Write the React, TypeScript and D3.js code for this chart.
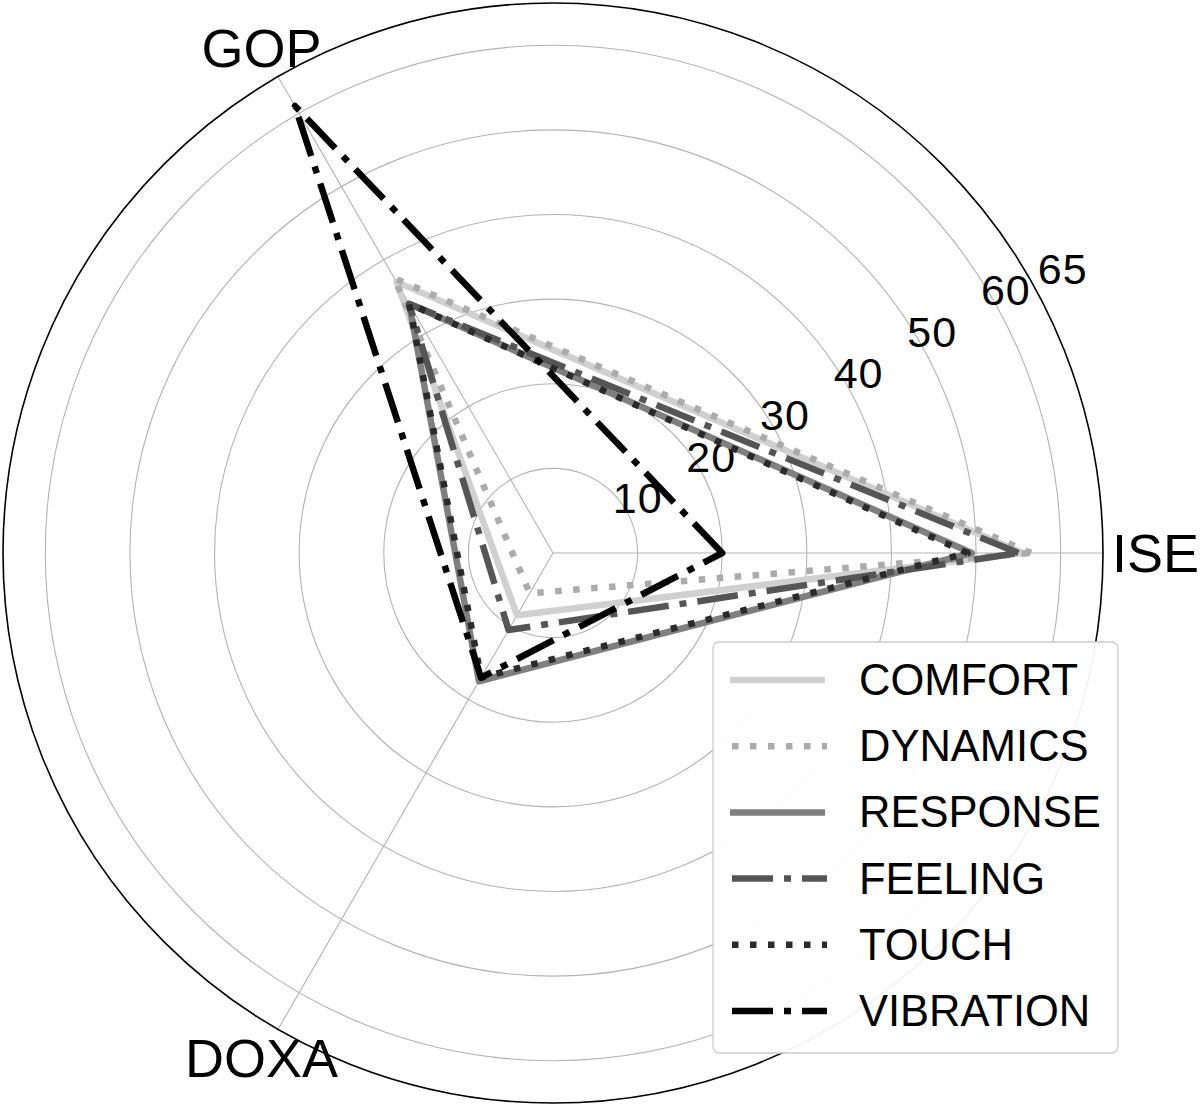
import React from "react";
import * as d3 from "d3";

const axes = ["ISE", "GOP", "DOXA"];
const axisAngles = [0, 120, 240];
const ticks = [10, 20, 30, 40, 50, 60, 65];
const seriesNames = ["COMFORT", "DYNAMICS", "RESPONSE", "FEELING", "TOUCH", "VIBRATION"];
const comfort = [55.5, 37, 8.5];
const dynamics = [56.5, 37.5, 5.5];
const response = [49.5, 34, 17.5];
const feeling = [55, 34, 10.5];
const touch = [49, 34, 17];
const vibration = [20, 61, 17];
const seriesValues = [comfort, dynamics, response, feeling, touch, vibration];

const styles = [
  { color: "#d0d0d0", dash: "" },
  { color: "#ababab", dash: "6.5,11.5" },
  { color: "#7f7f7f", dash: "" },
  { color: "#555555", dash: "41,11,7,11" },
  { color: "#2a2a2a", dash: "6.5,11.5" },
  { color: "#000000", dash: "41,11,7,11" },
];

const FONT = "'Liberation Sans', Arial, sans-serif";

export default function App() {
  const W = 1200, H = 1106;
  const cx = 553, cy = 553;
  const rMax = 65;
  const r = d3.scaleLinear().domain([0, rMax]).range([0, 550]);
  const pt = (deg: number, v: number): [number, number] => {
    const a = (deg * Math.PI) / 180;
    return [cx + r(v) * Math.cos(a), cy - r(v) * Math.sin(a)];
  };
  const line = d3.line<[number, number]>().curve(d3.curveLinearClosed);
  const labelAngle = 29.5;

  const legendX = 713, legendY = 642, legendW = 405, legendH = 411;
  const rowY = (i: number) => 680 + i * 66.2;

  return (
    <svg width={W} height={H} style={{ position: "absolute", left: 0, top: 0 }} fontFamily={FONT}>
      <rect width={W} height={H} fill="#fff" />
      {ticks.filter((t) => t < rMax).map((t) => (
        <circle key={t} cx={cx} cy={cy} r={r(t)} fill="none" stroke="#b3b3b3" strokeWidth={1.1} />
      ))}
      {axisAngles.map((a, i) => {
        const [x, y] = pt(a, rMax);
        return <line key={i} x1={cx} y1={cy} x2={x} y2={y} stroke="#b3b3b3" strokeWidth={1.1} />;
      })}
      <circle cx={cx} cy={cy} r={r(rMax)} fill="none" stroke="#000" strokeWidth={1.6} />
      {ticks.map((t) => {
        const [x, y] = pt(labelAngle, t);
        const extra = t === rMax ? 20 : 0;
        return (
          <text key={t} x={x + 11 + extra} y={y - 13} fontSize={43} letterSpacing={1} textAnchor="middle" dominantBaseline="central" fill="#000">
            {t}
          </text>
        );
      })}
      {seriesValues.map((vals, si) => {
        const pts = vals.map((v, i) => pt(axisAngles[i], v));
        return (
          <path
            key={si}
            d={line(pts) || ""}
            fill="none"
            stroke={styles[si].color}
            strokeWidth={6.5}
            strokeDasharray={styles[si].dash || undefined}
            strokeLinejoin="round"
            strokeLinecap={styles[si].dash ? "butt" : "square"}
          />
        );
      })}
      {axes.map((name, i) => {
        const a = axisAngles[i];
        if (a === 0) {
          const [x, y] = pt(a, rMax);
          return (
            <text key={name} x={x + 9} y={y} fontSize={54} textAnchor="start" dominantBaseline="central" fill="#000">
              {name}
            </text>
          );
        }
        const aa = (a * Math.PI) / 180;
        const rr = 583;
        return (
          <text key={name} x={cx + rr * Math.cos(aa)} y={cy - rr * Math.sin(aa)} fontSize={54} textAnchor="middle" dominantBaseline="central" fill="#000">
            {name}
          </text>
        );
      })}
      <rect x={legendX} y={legendY} width={legendW} height={legendH} rx={6} fill="#fff" fillOpacity={0.95} stroke="#cccccc" strokeWidth={1.3} />
      {seriesNames.map((n, i) => (
        <g key={n}>
          <line
            x1={730}
            x2={825}
            y1={rowY(i)}
            y2={rowY(i)}
            stroke={styles[i].color}
            strokeWidth={6.5}
            strokeDasharray={styles[i].dash || undefined}
            transform={styles[i].dash ? "translate(2,0)" : undefined}
          />
          <text x={859} y={rowY(i)} fontSize={43.5} dominantBaseline="central" fill="#000">
            {n}
          </text>
        </g>
      ))}
    </svg>
  );
}
